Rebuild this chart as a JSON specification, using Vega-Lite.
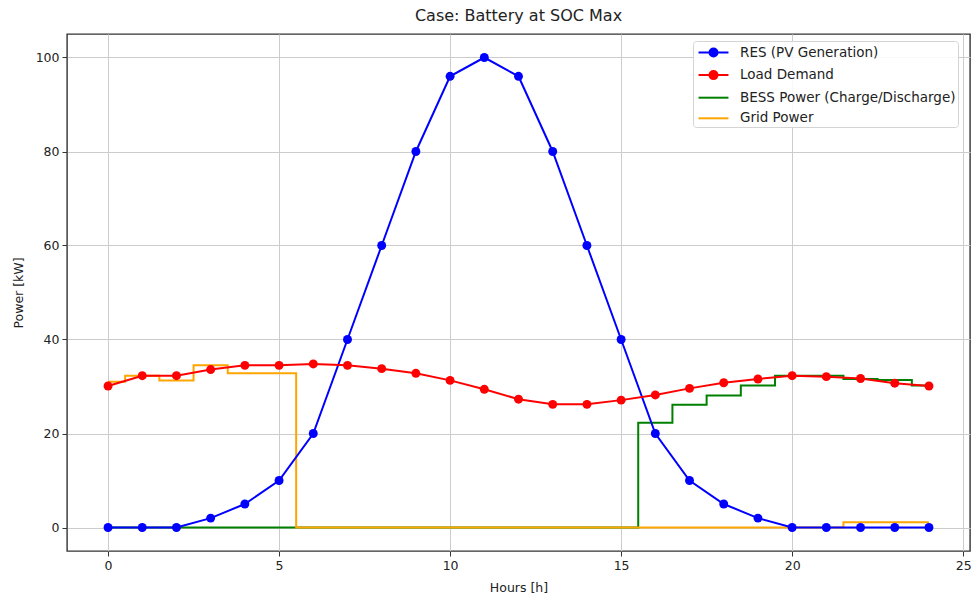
{
  "$schema": "https://vega.github.io/schema/vega-lite/v6.json",
  "width": 903,
  "height": 517,
  "autosize": {"type": "none"},
  "padding": {"left": 67, "top": 34, "right": 1, "bottom": 46},
  "background": "white",
  "title": {
    "text": "Case: Battery at SOC Max",
    "anchor": "middle",
    "frame": "group",
    "baseline": "bottom",
    "offset": 8,
    "dy": 14,
    "font": "DejaVu Sans",
    "fontSize": 16,
    "fontWeight": "normal",
    "color": "#222"
  },
  "datasets": {
    "series": [
      {"hour": 0, "series": "RES (PV Generation)", "power": 0},
      {"hour": 1, "series": "RES (PV Generation)", "power": 0},
      {"hour": 2, "series": "RES (PV Generation)", "power": 0},
      {"hour": 3, "series": "RES (PV Generation)", "power": 2},
      {"hour": 4, "series": "RES (PV Generation)", "power": 5},
      {"hour": 5, "series": "RES (PV Generation)", "power": 10},
      {"hour": 6, "series": "RES (PV Generation)", "power": 20},
      {"hour": 7, "series": "RES (PV Generation)", "power": 40},
      {"hour": 8, "series": "RES (PV Generation)", "power": 60},
      {"hour": 9, "series": "RES (PV Generation)", "power": 80},
      {"hour": 10, "series": "RES (PV Generation)", "power": 96},
      {"hour": 11, "series": "RES (PV Generation)", "power": 100},
      {"hour": 12, "series": "RES (PV Generation)", "power": 96},
      {"hour": 13, "series": "RES (PV Generation)", "power": 80},
      {"hour": 14, "series": "RES (PV Generation)", "power": 60},
      {"hour": 15, "series": "RES (PV Generation)", "power": 40},
      {"hour": 16, "series": "RES (PV Generation)", "power": 20},
      {"hour": 17, "series": "RES (PV Generation)", "power": 10},
      {"hour": 18, "series": "RES (PV Generation)", "power": 5},
      {"hour": 19, "series": "RES (PV Generation)", "power": 2},
      {"hour": 20, "series": "RES (PV Generation)", "power": 0},
      {"hour": 21, "series": "RES (PV Generation)", "power": 0},
      {"hour": 22, "series": "RES (PV Generation)", "power": 0},
      {"hour": 23, "series": "RES (PV Generation)", "power": 0},
      {"hour": 24, "series": "RES (PV Generation)", "power": 0},

      {"hour": 0, "series": "Load Demand", "power": 30.1},
      {"hour": 1, "series": "Load Demand", "power": 32.3},
      {"hour": 2, "series": "Load Demand", "power": 32.3},
      {"hour": 3, "series": "Load Demand", "power": 33.6},
      {"hour": 4, "series": "Load Demand", "power": 34.5},
      {"hour": 5, "series": "Load Demand", "power": 34.5},
      {"hour": 6, "series": "Load Demand", "power": 34.8},
      {"hour": 7, "series": "Load Demand", "power": 34.5},
      {"hour": 8, "series": "Load Demand", "power": 33.8},
      {"hour": 9, "series": "Load Demand", "power": 32.8},
      {"hour": 10, "series": "Load Demand", "power": 31.3},
      {"hour": 11, "series": "Load Demand", "power": 29.4},
      {"hour": 12, "series": "Load Demand", "power": 27.3},
      {"hour": 13, "series": "Load Demand", "power": 26.2},
      {"hour": 14, "series": "Load Demand", "power": 26.2},
      {"hour": 15, "series": "Load Demand", "power": 27.1},
      {"hour": 16, "series": "Load Demand", "power": 28.2},
      {"hour": 17, "series": "Load Demand", "power": 29.6},
      {"hour": 18, "series": "Load Demand", "power": 30.8},
      {"hour": 19, "series": "Load Demand", "power": 31.6},
      {"hour": 20, "series": "Load Demand", "power": 32.3},
      {"hour": 21, "series": "Load Demand", "power": 32.1},
      {"hour": 22, "series": "Load Demand", "power": 31.7},
      {"hour": 23, "series": "Load Demand", "power": 30.7},
      {"hour": 24, "series": "Load Demand", "power": 30.1},

      {"hour": 0, "series": "BESS Power (Charge/Discharge)", "power": 0},
      {"hour": 1, "series": "BESS Power (Charge/Discharge)", "power": 0},
      {"hour": 2, "series": "BESS Power (Charge/Discharge)", "power": 0},
      {"hour": 3, "series": "BESS Power (Charge/Discharge)", "power": 0},
      {"hour": 4, "series": "BESS Power (Charge/Discharge)", "power": 0},
      {"hour": 5, "series": "BESS Power (Charge/Discharge)", "power": 0},
      {"hour": 6, "series": "BESS Power (Charge/Discharge)", "power": 0},
      {"hour": 7, "series": "BESS Power (Charge/Discharge)", "power": 0},
      {"hour": 8, "series": "BESS Power (Charge/Discharge)", "power": 0},
      {"hour": 9, "series": "BESS Power (Charge/Discharge)", "power": 0},
      {"hour": 10, "series": "BESS Power (Charge/Discharge)", "power": 0},
      {"hour": 11, "series": "BESS Power (Charge/Discharge)", "power": 0},
      {"hour": 12, "series": "BESS Power (Charge/Discharge)", "power": 0},
      {"hour": 13, "series": "BESS Power (Charge/Discharge)", "power": 0},
      {"hour": 14, "series": "BESS Power (Charge/Discharge)", "power": 0},
      {"hour": 15, "series": "BESS Power (Charge/Discharge)", "power": 0},
      {"hour": 16, "series": "BESS Power (Charge/Discharge)", "power": 22.3},
      {"hour": 17, "series": "BESS Power (Charge/Discharge)", "power": 26.1},
      {"hour": 18, "series": "BESS Power (Charge/Discharge)", "power": 28.1},
      {"hour": 19, "series": "BESS Power (Charge/Discharge)", "power": 30.2},
      {"hour": 20, "series": "BESS Power (Charge/Discharge)", "power": 32.3},
      {"hour": 21, "series": "BESS Power (Charge/Discharge)", "power": 32.3},
      {"hour": 22, "series": "BESS Power (Charge/Discharge)", "power": 31.6},
      {"hour": 23, "series": "BESS Power (Charge/Discharge)", "power": 31.4},
      {"hour": 24, "series": "BESS Power (Charge/Discharge)", "power": 30.2},

      {"hour": 0, "series": "Grid Power", "power": 31},
      {"hour": 1, "series": "Grid Power", "power": 32.3},
      {"hour": 2, "series": "Grid Power", "power": 31.3},
      {"hour": 3, "series": "Grid Power", "power": 34.5},
      {"hour": 4, "series": "Grid Power", "power": 32.8},
      {"hour": 5, "series": "Grid Power", "power": 32.8},
      {"hour": 6, "series": "Grid Power", "power": 0},
      {"hour": 7, "series": "Grid Power", "power": 0},
      {"hour": 8, "series": "Grid Power", "power": 0},
      {"hour": 9, "series": "Grid Power", "power": 0},
      {"hour": 10, "series": "Grid Power", "power": 0},
      {"hour": 11, "series": "Grid Power", "power": 0},
      {"hour": 12, "series": "Grid Power", "power": 0},
      {"hour": 13, "series": "Grid Power", "power": 0},
      {"hour": 14, "series": "Grid Power", "power": 0},
      {"hour": 15, "series": "Grid Power", "power": 0},
      {"hour": 16, "series": "Grid Power", "power": 0},
      {"hour": 17, "series": "Grid Power", "power": 0},
      {"hour": 18, "series": "Grid Power", "power": 0},
      {"hour": 19, "series": "Grid Power", "power": 0},
      {"hour": 20, "series": "Grid Power", "power": 0},
      {"hour": 21, "series": "Grid Power", "power": 0},
      {"hour": 22, "series": "Grid Power", "power": 1.1},
      {"hour": 23, "series": "Grid Power", "power": 1.1},
      {"hour": 24, "series": "Grid Power", "power": 1.1}
    ]
  },
  "data": {"name": "series"},
  "encoding": {
    "x": {
      "field": "hour",
      "type": "quantitative",
      "scale": {"domain": [-1.2, 25.2], "nice": false, "zero": false},
      "axis": {"values": [0, 5, 10, 15, 20, 25], "title": "Hours [h]", "titlePadding": 10}
    },
    "y": {
      "field": "power",
      "type": "quantitative",
      "scale": {"domain": [-5, 105], "nice": false, "zero": false},
      "axis": {"values": [0, 20, 40, 60, 80, 100], "title": "Power [kW]", "titlePadding": 10}
    },
    "color": {
      "field": "series",
      "type": "nominal",
      "sort": null,
      "scale": {
        "domain": ["RES (PV Generation)", "Load Demand", "BESS Power (Charge/Discharge)", "Grid Power"],
        "range": ["#0000ff", "#ff0000", "#008000", "#ffa500"]
      },
      "legend": {
        "title": null,
        "orient": "none",
        "legendX": 626,
        "legendY": 7,
        "padding": 2,
        "fillColor": "rgba(255,255,255,0.85)",
        "strokeColor": "#d4d4d4",
        "cornerRadius": 3,
        "symbolSize": 289,
        "symbolStrokeWidth": 2,
        "symbolOffset": 9,
        "labelOffset": 17,
        "rowPadding": 4.6,
        "labelLimit": 400,
        "labelFont": "DejaVu Sans",
        "labelFontSize": 13.5,
        "labelColor": "#222",
        "encode": {
          "symbols": {
            "update": {
              "shape": {"signal": "indexof(['RES (PV Generation)', 'Load Demand'], datum.value) >= 0 ? 'M-1.76,0H1.76M-0.47,0A0.47,0.47,0,1,0,0.47,0A0.47,0.47,0,1,0,-0.47,0' : 'M-1.76,0H1.76'"},
              "fill": {"signal": "scale('color', datum.value)"},
              "stroke": {"signal": "scale('color', datum.value)"}
            }
          }
        }
      }
    }
  },
  "layer": [
    {
      "transform": [{"filter": "datum.series === 'BESS Power (Charge/Discharge)' || datum.series === 'Grid Power'"}],
      "mark": {"type": "line", "interpolate": "step", "strokeWidth": 2}
    },
    {
      "transform": [{"filter": "datum.series === 'RES (PV Generation)' || datum.series === 'Load Demand'"}],
      "mark": {"type": "line", "strokeWidth": 2}
    },
    {
      "transform": [{"filter": "datum.series === 'RES (PV Generation)' || datum.series === 'Load Demand'"}],
      "mark": {"type": "point", "filled": true, "opacity": 1, "size": 80}
    }
  ],
  "config": {
    "view": {"stroke": "#333", "strokeWidth": 1.4},
    "axis": {
      "domain": false,
      "grid": true,
      "gridColor": "#cccccc",
      "gridWidth": 1,
      "ticks": true,
      "tickColor": "#333",
      "tickSize": 5,
      "tickWidth": 1,
      "labelFont": "DejaVu Sans",
      "labelFontSize": 12.5,
      "labelColor": "#222",
      "labelPadding": 3,
      "titleFont": "DejaVu Sans",
      "titleFontSize": 12.5,
      "titleFontWeight": "normal",
      "titleColor": "#222"
    }
  }
}
